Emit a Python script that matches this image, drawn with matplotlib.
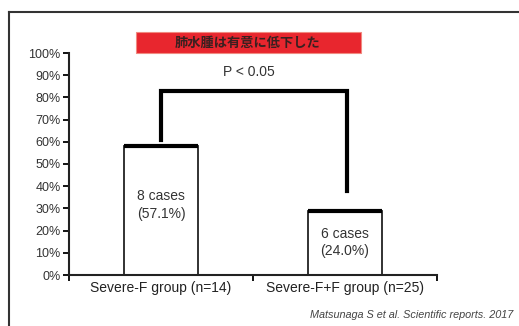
"""Bar chart: pulmonary edema rate by group, with significance bracket."""

import matplotlib

matplotlib.use("Agg")
import matplotlib.pyplot as plt  # noqa: E402
from matplotlib.patches import Rectangle  # noqa: E402
from matplotlib.lines import Line2D  # noqa: E402

plt.rcParams["font.family"] = ["Liberation Sans", "DejaVu Sans"]

# data
groups = ["Severe-F group (n=14)", "Severe-F+F group (n=25)"]
bar_heights = [58.0, 29.0]  # drawn heights in %
bar_texts = ["8 cases\n(57.1%)", "6 cases\n(24.0%)"]
text_levels = [31.5, 14.5]
bracket_legs = [61.0, 38.0]
bracket_top = 83.0
p_text = "P < 0.05"
yticks = list(range(0, 101, 10))
title_jp = "肺水腫は有意に低下した"
citation = "Matsunaga S et al. Scientific reports. 2017"

W, H = 519, 326
fig = plt.figure(figsize=(W / 100, H / 100), dpi=100)
ax = fig.add_axes([69 / W, 1 - 275 / H, 368 / W, 222 / H])

centers = [0.5, 1.5]
ax.bar(centers, bar_heights, width=0.4, color="white", edgecolor="#222222",
       linewidth=1.3, zorder=2)
for c, h in zip(centers, bar_heights):
    ax.plot([c - 0.2, c + 0.2], [h, h], color="black", lw=3.0,
            solid_capstyle="butt", zorder=3)
for c, t, lvl in zip(centers, bar_texts, text_levels):
    ax.text(c, lvl, t, ha="center", va="center", fontsize=10, color="#333333",
            linespacing=1.3, zorder=4)

# significance bracket
bx = [centers[0], centers[0], centers[1] + 0.01, centers[1] + 0.01]
by = [bracket_legs[0], bracket_top, bracket_top, bracket_legs[1]]
ax.plot(bx, by, color="black", lw=3.0, solid_joinstyle="miter", clip_on=False)
ax.text(sum(centers) / 2 - 0.02, bracket_top + 5.5, p_text, ha="center",
        va="bottom", fontsize=10, color="#333333")

ax.set_xlim(0, 2)
ax.set_ylim(0, 100)
ax.set_yticks(yticks)
ax.set_yticklabels([f"{v}%" for v in yticks], fontsize=9, color="#333333")
ax.set_xticks([0, 1, 2])
ax.set_xticklabels([])
ax.set_xticks(centers, minor=True)
ax.set_xticklabels(groups, minor=True, fontsize=10, color="#222222")
ax.tick_params(axis="x", which="minor", length=0, pad=4)
ax.tick_params(axis="x", which="major", length=4, width=1.3, direction="out")
ax.tick_params(axis="y", length=4, width=1.3, direction="out", pad=2)
for s in ["top", "right"]:
    ax.spines[s].set_visible(False)
for s in ["left", "bottom"]:
    ax.spines[s].set_linewidth(1.5)
    ax.spines[s].set_color("#222222")

# outer frame (cut at right and bottom)
fig.add_artist(Line2D([9 / W, 9 / W], [0, 1 - 12 / H], color="#333333",
                      lw=1.5, transform=fig.transFigure))
fig.add_artist(Line2D([9 / W, 1], [1 - 12 / H, 1 - 12 / H], color="#333333",
                      lw=1.5, transform=fig.transFigure))

# red title box
fig.add_artist(Rectangle((136 / W, 1 - 53 / H), 225 / W, 21 / H,
                         transform=fig.transFigure, facecolor="#e8262e",
                         edgecolor="#f08a80", lw=0.8))
fig.text(248 / W, 1 - 42.5 / H, title_jp, ha="center", va="center",
         fontsize=9.5, fontweight="bold", color="#3a2020",
         family=["Noto Sans CJK JP", "DejaVu Sans"])

fig.text(513 / W, 1 - 315 / H, citation, ha="right", va="center",
         fontsize=7.8, style="italic", color="#444444")

fig.savefig("out.png", dpi=100)
